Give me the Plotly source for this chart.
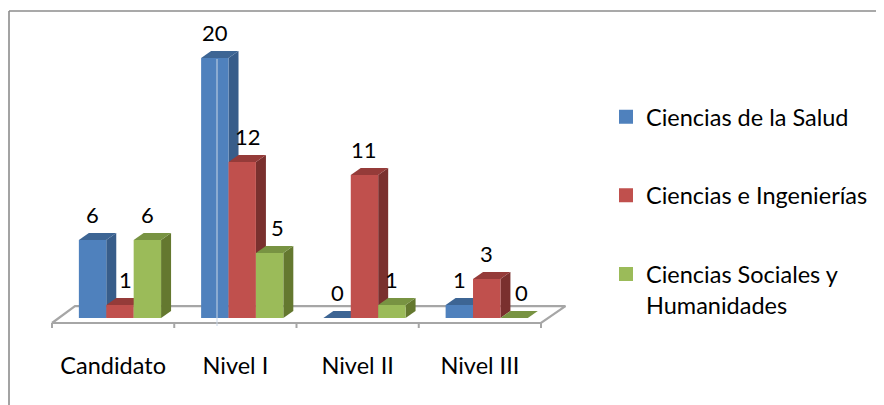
import plotly.graph_objects as go

categories = ["Candidato", "Nivel I", "Nivel II", "Nivel III"]
series_names = ["Ciencias de la Salud", "Ciencias e Ingenierías", "Ciencias Sociales y<br>Humanidades"]
salud = [6, 20, 0, 1]
ingenierias = [1, 12, 11, 3]
sociales = [6, 5, 1, 0]
series_values = [salud, ingenierias, sociales]

front_colors = ["#4F81BD", "#C0504D", "#9BBB59"]
top_colors = ["#3D6594", "#953B39", "#789342"]
side_colors = ["#385D8A", "#7A302E", "#64782F"]

OFF = 8  # the page's body margin
W, H = 884, 405 - OFF
PX_L, PX_R, PX_T, PX_B = 40 - OFF, 575 - OFF, 14 - OFF, 332 - OFF
PX_PER_X = 489 / 4
PX_PER_Y = 13.0
X0_PX = 52 - OFF
ZERO_PX = 318 - OFF
X_MIN = (PX_L - X0_PX) / PX_PER_X
X_MAX = (PX_R - X0_PX) / PX_PER_X
Y_MIN = (ZERO_PX - PX_B) / PX_PER_Y
Y_MAX = (ZERO_PX - PX_T) / PX_PER_Y
FLOOR_FRONT = -5 / PX_PER_Y
TICK_END = -10 / PX_PER_Y
DX = 10 / PX_PER_X
DY = 7 / PX_PER_Y
GROUP_CENTER = 0.556
BAR_W = 27.4 / PX_PER_X
FONT = "Lato"
TEXT = "#000000"
FS = 23.5
FS_NUM = 22

label_shift = {(0, 1): 6, (1, 1): 6, (1, 2): 8, (3, 2): 7}

fig = go.Figure()

# floor outline
fig.add_trace(go.Scatter(
    x=[0, 4, 4.2, 0.188, 0],
    y=[FLOOR_FRONT, FLOOR_FRONT, 0.92, 0.92, FLOOR_FRONT],
    mode="lines", line=dict(color="#A6A6A6", width=2.2),
    showlegend=False, hoverinfo="skip"))

# tick marks between categories
tick_x, tick_y = [], []
for k in range(len(categories) + 1):
    tick_x += [k, k, None]
    tick_y += [FLOOR_FRONT, TICK_END, None]
fig.add_trace(go.Scatter(
    x=tick_x, y=tick_y, mode="lines", line=dict(color="#A6A6A6", width=2),
    showlegend=False, hoverinfo="skip"))

# depth faces, left to right
for i in range(len(categories)):
    for j, vals in enumerate(series_values):
        c = i + GROUP_CENTER + (j - 1) * BAR_W
        l, r = c - BAR_W / 2, c + BAR_W / 2
        v = vals[i]
        fig.add_trace(go.Scatter(
            x=[r, r + DX, r + DX, r, r], y=[0, DY, v + DY, v, 0],
            mode="lines", fill="toself", fillcolor=side_colors[j],
            line=dict(width=0, color=side_colors[j]), showlegend=False, hoverinfo="skip"))
        fig.add_trace(go.Scatter(
            x=[l, r, r + DX, l + DX, l], y=[v, v, v + DY, v + DY, v],
            mode="lines", fill="toself", fillcolor=top_colors[j],
            line=dict(width=0, color=top_colors[j]), showlegend=False, hoverinfo="skip"))

# fronts on an overlaid axis pair
centers = [i + GROUP_CENTER for i in range(len(categories))]
for j, name in enumerate(series_names):
    fig.add_trace(go.Bar(
        x=centers, y=series_values[j], name=name, legendgroup=name, showlegend=False,
        width=BAR_W, offset=(j - 1.5) * BAR_W,
        marker=dict(color=front_colors[j], line=dict(width=0)),
        xaxis="x2", yaxis="y2"))
    # legend entry with the reference's slightly larger swatch
    fig.add_trace(go.Bar(
        x=[None], y=[None], name=name, legendgroup=name,
        marker=dict(color=front_colors[j], line=dict(width=2, color=front_colors[j])),
        xaxis="x2", yaxis="y2"))

annotations = []
for i in range(len(categories)):
    for j, vals in enumerate(series_values):
        annotations.append(dict(
            x=centers[i] + (j - 1) * BAR_W, y=vals[i], xref="x2", yref="y2",
            text=str(vals[i]), showarrow=False, xanchor="center", yanchor="middle",
            xshift=label_shift.get((i, j), 0), yshift=26,
            font=dict(family=FONT, size=FS_NUM, color=TEXT)))

def fx(p):
    return (p - OFF - PX_L) / (PX_R - PX_L)

def fy(p):
    return (PX_B - (p - OFF)) / (PX_B - PX_T)

shapes = [
    dict(type="line", xref="paper", yref="paper", x0=fx(9), x1=fx(892), y0=fy(11), y1=fy(11),
         line=dict(color="#8C8C8C", width=1.6), layer="above"),
    dict(type="line", xref="paper", yref="paper", x0=fx(9), x1=fx(9), y0=fy(11), y1=fy(405),
         line=dict(color="#8C8C8C", width=1.6), layer="above"),
    dict(type="line", xref="paper", yref="paper", x0=fx(217), x1=fx(217), y0=fy(326), y1=fy(59),
         line=dict(color="#C9D6E6", width=1), layer="above"),
]

fig.update_layout(
    width=W, height=H, autosize=False,
    margin=dict(l=PX_L, r=W - PX_R, t=PX_T, b=H - PX_B),
    paper_bgcolor="white", plot_bgcolor="rgba(0,0,0,0)",
    barmode="overlay", hovermode=False,
    font=dict(family=FONT, size=FS, color=TEXT),
    xaxis=dict(range=[X_MIN, X_MAX], showgrid=False, zeroline=False, showline=False,
               tickmode="array", tickvals=[i + 0.5 for i in range(4)], ticktext=categories,
               ticks="outside", ticklen=13, tickcolor="rgba(0,0,0,0)", tickwidth=1,
               tickfont=dict(family=FONT, size=FS, color=TEXT)),
    yaxis=dict(range=[Y_MIN, Y_MAX], visible=False),
    xaxis2=dict(range=[X_MIN, X_MAX], overlaying="x", visible=False),
    yaxis2=dict(range=[Y_MIN, Y_MAX], overlaying="y", visible=False),
    legend=dict(x=fx(611), y=fy(95),
                xanchor="left", yanchor="top", tracegroupgap=45, borderwidth=0,
                bgcolor="rgba(0,0,0,0)", traceorder="grouped", indentation=-5, valign="top",
                font=dict(family=FONT, size=FS, color=TEXT)),
    annotations=annotations, shapes=shapes,
)

fig.write_html("out.html", config=dict(displayModeBar=False))
